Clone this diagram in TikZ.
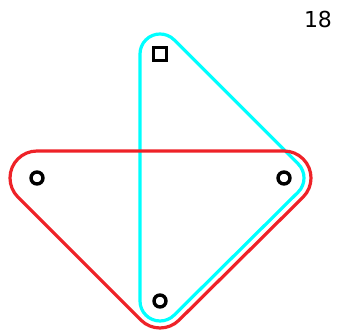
\documentclass[tikz,border=0pt]{standalone}
\usepackage{fontspec}
\setmainfont{DejaVu Sans}
\usetikzlibrary{calc}
\definecolor{loopred}{RGB}{238,34,40}
\definecolor{loopcyan}{RGB}{0,255,255}
\begin{document}
\begin{tikzpicture}[x=1pt,y=1pt,
  vcirc/.style={circle,draw=black,line width=3.4pt,inner sep=0pt,minimum size=12pt,fill=white},
  vsq/.style={rectangle,draw=black,line width=3.4pt,inner sep=0pt,minimum size=13pt,fill=white},
  hedge/.style={line width=3.2pt,line join=round}]
\useasboundingbox (0,0) rectangle (343,334);
\coordinate (S) at (160,280);
\coordinate (L) at (37,156);
\coordinate (R) at (284,156);
\coordinate (B) at (160,33);
% cyan loop: S, B, R
\draw[hedge,loopcyan] ([shift={(180:20)}]S) -- ([shift={(180:20)}]B)
  arc[start angle=180,end angle=315,radius=20]
  -- ([shift={(315:20)}]R)
  arc[start angle=-45,end angle=45,radius=20]
  -- ([shift={(45:20)}]S)
  arc[start angle=45,end angle=180,radius=20] -- cycle;
% red loop: L, B, R
\draw[hedge,loopred] ([shift={(225:27)}]L) -- ([shift={(225:27)}]B)
  arc[start angle=225,end angle=315,radius=27]
  -- ([shift={(315:27)}]R)
  arc[start angle=-45,end angle=90,radius=27]
  -- ([shift={(90:27)}]L)
  arc[start angle=90,end angle=225,radius=27] -- cycle;
\node[vsq] (s) at (S) {};
\node[vcirc] (l) at (L) {};
\node[vcirc] (r) at (R) {};
\node[vcirc] (b) at (B) {};
\node[font=\fontsize{22}{26}\selectfont,inner sep=0pt] (lab) at (318,315) {18};
\end{tikzpicture}
\end{document}
